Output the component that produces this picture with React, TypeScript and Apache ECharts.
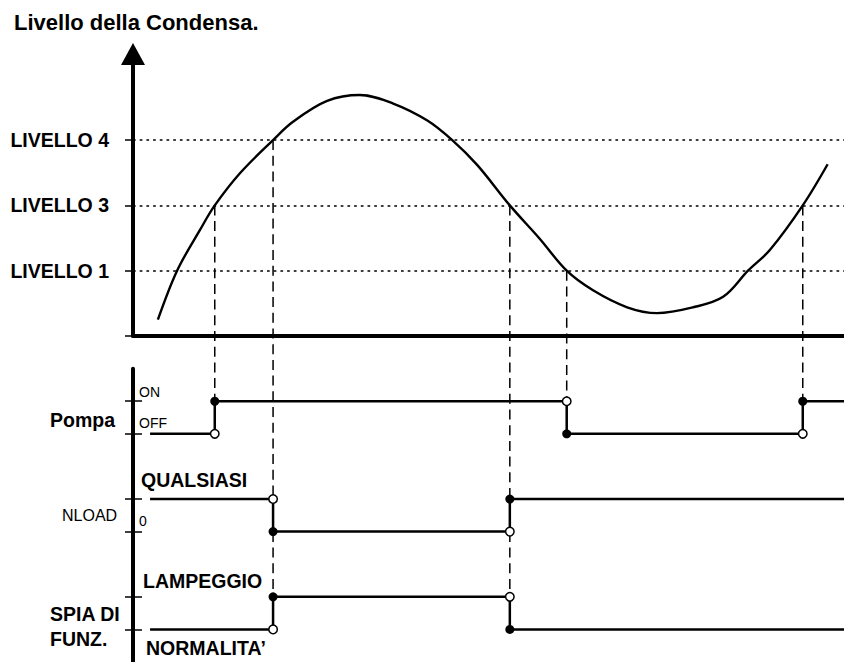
import React, { useEffect, useRef } from 'react';
import * as echarts from 'echarts';

// ---------------- data ----------------
const chartTitle = 'Livello della Condensa.';
const levelNames = ['LIVELLO 1', 'LIVELLO 3', 'LIVELLO 4'];
const levelValues = [1, 2, 3];

// condensate level curve (time, level)
const curveTime = [3.5, 6.2, 9.4, 11.5, 15.1, 19.7, 22.5, 27.3, 31.9, 36.6, 41.4, 44.9, 48.4, 53.0, 57.2, 61.0, 64.7, 69.5, 73.7, 78.8, 83.0, 86.5, 89.6, 94.2, 97.7];
const curveLevel = [0.25, 1.0, 1.62, 2.0, 2.5, 3.0, 3.28, 3.6, 3.69, 3.56, 3.3, 3.0, 2.62, 2.0, 1.49, 1.0, 0.7, 0.44, 0.35, 0.44, 0.6, 1.0, 1.32, 2.0, 2.63];

const signalNames = ['Pompa', 'NLOAD', 'SPIA DI\nFUNZ.'];

const pompaStateNames = ['OFF', 'ON'];
const pompaSwitchTimes = [11.5, 61.0, 94.2];
const pompaTriggerLevels = [2, 1, 2];
const pompaStates = [0, 1, 0, 1];

const nloadStateNames = ['0', 'QUALSIASI'];
const nloadSwitchTimes = [19.7, 53.0];
const nloadTriggerLevels = [3, 2];
const nloadStates = [1, 0, 1];

const spiaStateNames = ['NORMALITA\u2019', 'LAMPEGGIO'];
const spiaSwitchTimes = [19.7, 53.0];
const spiaStates = [0, 1, 0];

const timeStart = 2.4;
const timeEnd = 100;

// ---------------- layout ----------------
const W = 844;
const H = 662;
const AXIS_X = 133;
const AXIS_Y = 336;
const U = 65.3; // px per level unit
const TOP_MAX = 4.32;
const BOT_MIN = -5;
const BOT_MAX = -0.5;
const FONT = "'Liberation Sans', Arial, Helvetica, sans-serif";
const lanes = [
  { hi: -1, lo: -1.5 },
  { hi: -2.5, lo: -3 },
  { hi: -4, lo: -4.5 },
];
const laneVal = (lane: number, s: number) => lanes[lane].lo + s * (lanes[lane].hi - lanes[lane].lo);

const signals = [
  { lane: 0, times: pompaSwitchTimes, states: pompaStates },
  { lane: 1, times: nloadSwitchTimes, states: nloadStates },
  { lane: 2, times: spiaSwitchTimes, states: spiaStates },
];

function stepData(sig: { lane: number; times: number[]; states: number[] }) {
  const pts: number[][] = [[timeStart, laneVal(sig.lane, sig.states[0])]];
  sig.times.forEach((t, i) => {
    pts.push([t, laneVal(sig.lane, sig.states[i])]);
    pts.push([t, laneVal(sig.lane, sig.states[i + 1])]);
  });
  pts.push([timeEnd, laneVal(sig.lane, sig.states[sig.states.length - 1])]);
  return pts;
}

// text labels to the right of the lower axis (offset in px from the state line)
const insideLabels = [
  { text: pompaStateNames[1], lane: 0, state: 1, dy: -9.5, small: true, dx: 0 },
  { text: pompaStateNames[0], lane: 0, state: 0, dy: -11, small: true, dx: 0 },
  { text: nloadStateNames[0], lane: 1, state: 0, dy: -11, small: true, dx: 0 },
  { text: nloadStateNames[1], lane: 1, state: 1, dy: -19, small: false, dx: 2 },
  { text: spiaStateNames[1], lane: 2, state: 1, dy: -16, small: false, dx: 4 },
  { text: spiaStateNames[0], lane: 2, state: 0, dy: 18.5, small: false, dx: 7 },
].map((l) => ({ ...l, value: laneVal(l.lane, l.state) - l.dy / U }));

const leftLabels = [
  { text: signalNames[0], lane: 0, dy: 2, bold: true },
  { text: signalNames[1], lane: 1, dy: 0, bold: false },
  { text: signalNames[2], lane: 2, dy: 13.5, bold: true },
].map((l) => ({ ...l, value: (lanes[l.lane].hi + lanes[l.lane].lo) / 2 - l.dy / U }));

const near = (a: number, b: number) => Math.abs(a - b) < 1e-4;

function buildOption(): any {
  const stateTicks: number[] = [];
  lanes.forEach((l) => stateTicks.push(l.hi, l.lo));

  const guides: number[][][] = [];
  pompaSwitchTimes.forEach((t, i) => guides.push([[t, pompaTriggerLevels[i]], [t, lanes[0].hi]]));
  nloadSwitchTimes.forEach((t, i) => guides.push([[t, nloadTriggerLevels[i]], [t, lanes[1].hi]]));
  spiaSwitchTimes.forEach((t) => guides.push([[t, lanes[1].lo], [t, lanes[2].hi]]));

  const openDots: number[][] = [];
  const filledDots: number[][] = [];
  signals.forEach((sig) =>
    sig.times.forEach((t, i) => {
      openDots.push([t, laneVal(sig.lane, sig.states[i])]);
      filledDots.push([t, laneVal(sig.lane, sig.states[i + 1])]);
    })
  );

  const insideRich: any = {};
  insideLabels.forEach((l, i) => {
    insideRich['l' + i] = l.small
      ? { fontSize: 14, fontWeight: 'normal', color: '#000', fontFamily: FONT, padding: [0, 0, 0, l.dx] }
      : { fontSize: 19.5, fontWeight: 'bold', color: '#000', fontFamily: FONT, padding: [0, 0, 0, l.dx] };
  });

  return {
    animation: false,
    backgroundColor: '#fff',
    title: {
      text: chartTitle,
      left: 14,
      top: 11,
      padding: 0,
      textStyle: { fontSize: 22, fontWeight: 'bold', color: '#000', fontFamily: FONT },
    },
    grid: [
      { left: AXIS_X, right: 0, top: AXIS_Y - TOP_MAX * U, height: TOP_MAX * U },
      { left: AXIS_X, right: 0, top: AXIS_Y - BOT_MAX * U, height: (BOT_MAX - BOT_MIN) * U },
    ],
    xAxis: [
      {
        gridIndex: 0,
        type: 'value',
        min: 0,
        max: 100,
        axisLine: { show: true, onZero: false, lineStyle: { color: '#000', width: 4 } },
        axisTick: { show: false },
        axisLabel: { show: false },
        splitLine: { show: false },
      },
      { gridIndex: 1, type: 'value', min: 0, max: 100, show: false, splitLine: { show: false } },
    ],
    yAxis: [
      {
        gridIndex: 0,
        type: 'value',
        position: 'left',
        min: 0,
        max: TOP_MAX,
        axisLine: {
          show: true,
          onZero: false,
          lineStyle: { color: '#000', width: 4 },
          symbol: ['none', 'triangle'],
          symbolSize: [24, 22],
        },
        axisTick: { show: true, length: 8, customValues: [0, ...levelValues], lineStyle: { color: '#000', width: 1.5 } },
        axisLabel: {
          show: true,
          customValues: levelValues,
          formatter: (v: number) => {
            const i = levelValues.findIndex((x) => near(x, v));
            return i >= 0 ? levelNames[i] : '';
          },
          margin: 24,
          color: '#000',
          fontSize: 19.5,
          fontWeight: 'bold',
          fontFamily: FONT,
        },
        splitLine: { show: false },
      },
      {
        gridIndex: 1,
        type: 'value',
        position: 'left',
        min: BOT_MIN,
        max: BOT_MAX,
        axisLine: { show: true, onZero: false, lineStyle: { color: '#000', width: 4 } },
        axisTick: { show: true, length: 8, customValues: stateTicks, lineStyle: { color: '#000', width: 1.5 } },
        axisLabel: {
          show: true,
          customValues: leftLabels.map((l) => l.value),
          align: 'left',
          margin: 83,
          formatter: (v: number) => {
            const l = leftLabels.find((x) => near(x.value, v));
            if (!l) return '';
            return l.bold
              ? l.text.split('\n').map((s) => '{b|' + s + '}').join('\n')
              : '{n|' + l.text + '}';
          },
          rich: {
            b: { fontSize: 19.5, fontWeight: 'bold', color: '#000', fontFamily: FONT, lineHeight: 25 },
            n: { fontSize: 16, fontWeight: 'normal', color: '#000', fontFamily: FONT, padding: [0, 0, 0, 12] },
          },
        },
        splitLine: { show: false },
      },
      {
        gridIndex: 1,
        type: 'value',
        position: 'left',
        offset: 0,
        min: BOT_MIN,
        max: BOT_MAX,
        axisLine: { show: false },
        axisTick: { show: true, inside: true, length: 9, customValues: stateTicks, lineStyle: { color: '#000', width: 1.5 } },
        axisLabel: {
          show: true,
          inside: true,
          customValues: insideLabels.map((l) => l.value),
          margin: 6,
          formatter: (v: number) => {
            const i = insideLabels.findIndex((x) => near(x.value, v));
            return i >= 0 ? '{l' + i + '|' + insideLabels[i].text + '}' : '';
          },
          rich: insideRich,
        },
        splitLine: { show: false },
      },
    ],
    series: [
      {
        type: 'line',
        xAxisIndex: 0,
        yAxisIndex: 0,
        data: curveTime.map((t, i) => [t, curveLevel[i]]),
        smooth: 0.35,
        showSymbol: false,
        symbol: 'none',
        lineStyle: { color: '#000', width: 2.4 },
        z: 4,
        markLine: {
          silent: true,
          symbol: ['none', 'none'],
          label: { show: false },
          lineStyle: { color: '#000', width: 1.5, type: [2.7, 4] },
          data: levelValues.map((v) => ({ yAxis: v })),
        },
      },
      ...guides.map((g) => ({
        type: 'line',
        xAxisIndex: 0,
        yAxisIndex: 0,
        data: g,
        clip: false,
        showSymbol: false,
        symbol: 'none',
        lineStyle: { color: '#000', width: 1.5, type: [10, 5.7] },
        z: 3,
      })),
      ...signals.map((sig) => ({
        type: 'line',
        xAxisIndex: 1,
        yAxisIndex: 1,
        data: stepData(sig),
        clip: false,
        showSymbol: false,
        symbol: 'none',
        lineStyle: { color: '#000', width: 2.5 },
        z: 5,
      })),
      {
        type: 'scatter',
        xAxisIndex: 1,
        yAxisIndex: 1,
        data: filledDots,
        symbol: 'circle',
        symbolSize: 9,
        itemStyle: { color: '#000', opacity: 1 },
        z: 6,
      },
      {
        type: 'scatter',
        xAxisIndex: 1,
        yAxisIndex: 1,
        data: openDots,
        symbol: 'circle',
        symbolSize: 8.5,
        itemStyle: { color: '#fff', borderColor: '#000', borderWidth: 1.5, opacity: 1 },
        z: 6,
      },
    ],
  };
}

export default function App() {
  const ref = useRef<HTMLDivElement>(null);
  useEffect(() => {
    if (!ref.current) return;
    const chart = echarts.init(ref.current, undefined, { renderer: 'svg', width: W, height: H });
    chart.setOption(buildOption());
    return () => chart.dispose();
  }, []);
  return (
    <div
      ref={ref}
      style={{ position: 'fixed', left: 0, top: 0, width: W, height: H, background: '#fff' }}
    />
  );
}
